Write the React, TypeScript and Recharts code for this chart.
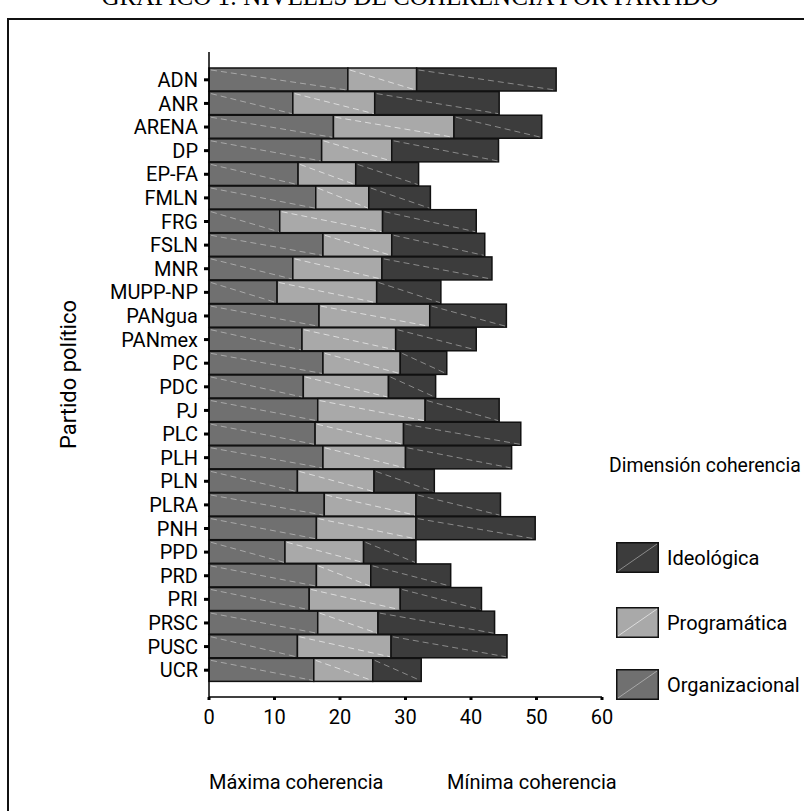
import { BarChart, Bar, XAxis, YAxis, Legend } from "recharts";

const parties = [
  "ADN", "ANR", "ARENA", "DP", "EP-FA", "FMLN", "FRG", "FSLN", "MNR", "MUPP-NP",
  "PANgua", "PANmex", "PC", "PDC", "PJ", "PLC", "PLH", "PLN", "PLRA", "PNH",
  "PPD", "PRD", "PRI", "PRSC", "PUSC", "UCR",
];

const organizacional = [
  21.2, 12.8, 19.0, 17.2, 13.6, 16.3, 10.8, 17.4, 12.8, 10.4,
  16.8, 14.2, 17.4, 14.4, 16.6, 16.2, 17.4, 13.5, 17.6, 16.4,
  11.6, 16.4, 15.3, 16.6, 13.5, 16.0,
];

const programatica = [
  10.5, 12.5, 18.4, 10.7, 8.8, 8.1, 15.7, 10.5, 13.6, 15.2,
  16.9, 14.3, 11.8, 13.0, 16.4, 13.5, 12.6, 11.7, 14.0, 15.2,
  12.0, 8.3, 13.9, 9.2, 14.3, 9.0,
];

const ideologica = [
  21.3, 19.0, 13.4, 16.3, 9.6, 9.4, 14.3, 14.2, 16.8, 9.8,
  11.7, 12.3, 7.1, 7.2, 11.3, 17.9, 16.2, 9.2, 12.9, 18.2,
  8.0, 12.2, 12.4, 17.8, 17.7, 7.4,
];

const xTicks = [0, 10, 20, 30, 40, 50, 60];

const data = parties.map((party, i) => ({
  party,
  organizacional: organizacional[i],
  programatica: programatica[i],
  ideologica: ideologica[i],
}));

const FONT = "Roboto, 'Liberation Sans', sans-serif";

const series = [
  { key: "ideologica", name: "Ideológica", fill: "#3c3c3c", line: "#8a8a8a" },
  { key: "programatica", name: "Programática", fill: "#a9a9a9", line: "#dcdcdc" },
  { key: "organizacional", name: "Organizacional", fill: "#707070", line: "#a8a8a8" },
];

const legendGaps = [64, 34, 31];

// rectangle with the dashed diagonal the original uses as fill pattern
const hatched = (lineColor: string) => (props: any) => {
  const { x, y, width, height, fill } = props;
  if (!width || !height) return null;
  return (
    <g>
      <rect x={x} y={y} width={width} height={height} fill={fill} stroke="#111" strokeWidth={1.5} />
      <line
        x1={x + 2}
        y1={y + 2}
        x2={x + width - 1}
        y2={y + height - 1}
        stroke={lineColor}
        strokeWidth={1}
        strokeDasharray="6 4"
      />
    </g>
  );
};

const renderLegend = () => (
  <div style={{ fontFamily: FONT, fontSize: 20, color: "#000", width: 194 }}>
    <div style={{ lineHeight: "24px", whiteSpace: "nowrap", fontSize: 19.4 }}>Dimensión coherencia</div>
    {series.map((s, i) => (
      <div
        key={s.key}
        style={{ display: "flex", alignItems: "center", marginTop: legendGaps[i], marginLeft: 7, height: 31 }}
      >
        <svg width={43} height={31} style={{ display: "block" }}>
          <rect x={0.75} y={0.75} width={41.5} height={29.5} fill={s.fill} stroke="#111" strokeWidth={1.5} />
          <line x1={2} y1={29} x2={41} y2={2} stroke={s.line} strokeWidth={1} />
        </svg>
        <span style={{ marginLeft: 8, whiteSpace: "nowrap" }}>{s.name}</span>
      </div>
    ))}
  </div>
);

const bottomLabels = (props: any) => {
  const vb = props.viewBox || {};
  const y = (vb.y || 697) + 92;
  return (
    <g fontFamily={FONT} fontSize={20} fill="#000">
      <text x={209} y={y}>Máxima coherencia</text>
      <text x={447} y={y}>Mínima coherencia</text>
    </g>
  );
};

export default function App() {
  return (
    <div style={{ position: "absolute", left: 0, top: 0, width: 804, height: 811, overflow: "hidden", background: "#fff" }}>
      <div
        style={{
          position: "absolute",
          left: 0,
          width: 804,
          top: -18,
          textAlign: "center",
          fontFamily: "'Liberation Serif', 'Times New Roman', serif",
          fontSize: 25,
          lineHeight: "30px",
          paddingLeft: 16,
          boxSizing: "border-box",
        }}
      >
        GRÁFICO 1: NIVELES DE COHERENCIA POR PARTIDO
      </div>
      <div
        style={{
          position: "absolute",
          left: 7,
          top: 18,
          width: 820,
          height: 820,
          border: "2px solid #111",
          boxSizing: "border-box",
        }}
      />
      <div style={{ position: "absolute", left: 0, top: 0 }}>
        <BarChart
          width={804}
          height={811}
          data={data}
          layout="vertical"
          margin={{ top: 52, right: 202, bottom: 74, left: 0 }}
          style={{ fontFamily: FONT }}
        >
          <XAxis
            type="number"
            domain={[0, 60]}
            ticks={xTicks}
            interval={0}
            height={40}
            axisLine={{ stroke: "#000", strokeWidth: 1.5 }}
            tickLine={{ stroke: "#000", strokeWidth: 3 }}
            tickSize={3}
            tickMargin={10}
            tick={{ fill: "#000", fontSize: 20 }}
            label={bottomLabels}
          />
          <XAxis
            xAxisId="top"
            orientation="top"
            type="number"
            domain={[0, 60]}
            height={0}
            tick={false}
            tickLine={false}
            axisLine={{ stroke: "#555", strokeWidth: 2 }}
          />
          <YAxis
            type="category"
            dataKey="party"
            width={209}
            interval={0}
            padding={{ top: 16, bottom: 15 }}
            axisLine={{ stroke: "#000", strokeWidth: 1.5 }}
            tickLine={{ stroke: "#000", strokeWidth: 3 }}
            tickSize={5}
            tickMargin={6}
            tick={{ fill: "#000", fontSize: 20 }}
            label={{ value: "Partido político", angle: -90, position: "center", dx: -36, fill: "#000", fontSize: 22 }}
          />
          <YAxis
            yAxisId="right"
            orientation="right"
            type="category"
            dataKey="party"
            width={0}
            tick={false}
            tickLine={false}
            axisLine={{ stroke: "#555", strokeWidth: 2 }}
          />
          <Legend
            layout="vertical"
            align="center"
            verticalAlign="middle"
            content={renderLegend}
            wrapperStyle={{ position: "absolute", left: 609, top: 454, width: 194 }}
          />
          <Bar dataKey="organizacional" name="Organizacional" stackId="a" fill="#707070" barSize={23} shape={hatched("#a8a8a8")} isAnimationActive={false} />
          <Bar dataKey="programatica" name="Programática" stackId="a" fill="#a9a9a9" barSize={23} shape={hatched("#dcdcdc")} isAnimationActive={false} />
          <Bar dataKey="ideologica" name="Ideológica" stackId="a" fill="#3c3c3c" barSize={23} shape={hatched("#8a8a8a")} isAnimationActive={false} />
        </BarChart>
      </div>
    </div>
  );
}
